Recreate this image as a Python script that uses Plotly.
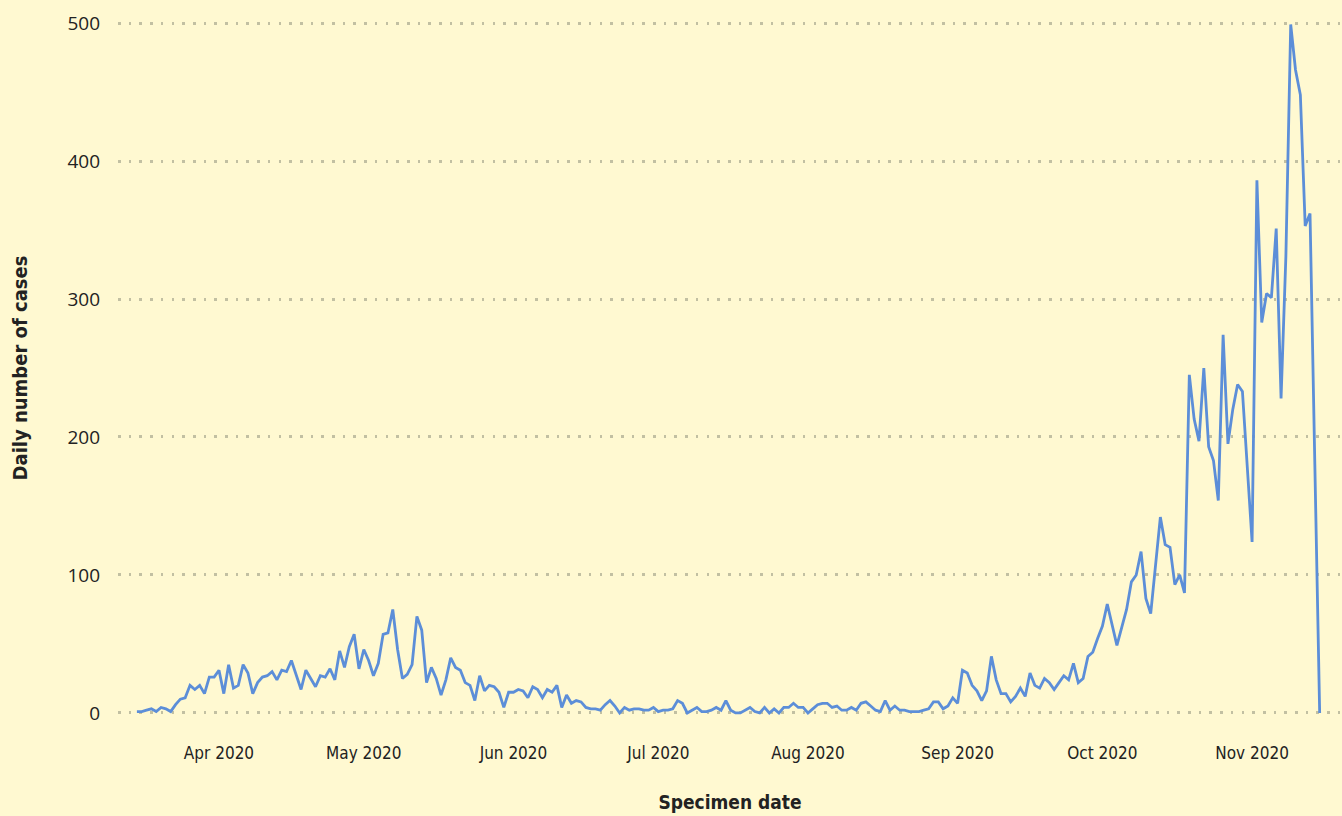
import plotly.graph_objects as go
import pandas as pd

start_date = "2020-03-15"
daily_cases = [
    1, 1, 2, 3, 1, 4, 3, 1, 6, 10,
    11, 20, 17, 20, 14, 26, 26, 31, 14, 35,
    18, 20, 35, 29, 14, 22, 26, 27, 30, 24,
    31, 30, 38, 28, 17, 31, 25, 19, 27, 26,
    32, 24, 45, 33, 48, 57, 32, 46, 38, 27,
    36, 57, 58, 75, 46, 25, 28, 35, 70, 60,
    22, 33, 25, 13, 24, 40, 33, 31, 22, 20,
    9, 27, 16, 20, 19, 15, 4, 15, 15, 17,
    16, 11, 19, 17, 11, 17, 15, 20, 4, 13,
    7, 9, 8, 4, 3, 3, 2, 6, 9, 5,
    0, 4, 2, 3, 3, 2, 2, 4, 1, 2,
    2, 3, 9, 7, 0, 2, 4, 1, 1, 2,
    4, 2, 9, 2, 0, 0, 2, 4, 1, 0,
    4, 0, 3, 0, 4, 4, 7, 4, 4, 0,
    3, 6, 7, 7, 4, 5, 2, 2, 4, 2,
    7, 8, 5, 2, 1, 9, 2, 5, 2, 2,
    1, 1, 1, 2, 3, 8, 8, 3, 5, 11,
    7, 31, 29, 20, 16, 9, 16, 41, 24, 14,
    14, 8, 12, 18, 12, 29, 20, 18, 25, 22,
    17, 22, 27, 24, 36, 22, 25, 41, 44, 54,
    63, 79, 64, 49, 62, 75, 95, 100, 117, 83,
    72, 106, 142, 122, 120, 93, 100, 87, 245, 213,
    197, 250, 193, 183, 154, 274, 195, 220, 238, 233,
    180, 124, 386, 283, 304, 301, 351, 228, 331, 499,
    466, 448, 353, 362, 180, 0,
]
dates = pd.date_range(start_date, periods=len(daily_cases), freq="D")

y_ticks = [0, 100, 200, 300, 400, 500]
x_title = "Specimen date"
y_title = "Daily number of cases"

bg = "#FFF9D1"
line_color = "#5C8ED8"
grid_color = "#C2C0A2"
text_color = "#222222"
narrow = "DejaVu Sans Condensed, Liberation Sans Narrow, sans-serif"

fig = go.Figure()
fig.add_trace(go.Scatter(
    x=dates, y=daily_cases, mode="lines",
    line=dict(color=line_color, width=2.8),
    hoverinfo="x+y",
))

fig.update_layout(
    width=1342, height=816,
    paper_bgcolor=bg, plot_bgcolor=bg,
    margin=dict(l=118, r=0, t=12, b=92),
    showlegend=False,
    xaxis=dict(
        type="date",
        range=["2020-03-11 02:00", "2020-11-19 15:00"],
        dtick="M1", tick0="2020-01-01", tickformat="%b %Y",
        showgrid=False, zeroline=False, showline=False, ticks="",
        tickfont=dict(family=narrow, size=17, color=text_color),
        ticklabelstandoff=17,
        title=dict(text="<b>" + x_title + "</b>", standoff=33,
                   font=dict(family=narrow, size=19, color=text_color)),
    ),
    yaxis=dict(
        range=[-8, 508],
        tickvals=y_ticks,
        showgrid=True, gridcolor=grid_color, gridwidth=2.6, griddash="2.6px,8.1px",
        zeroline=False, showline=False, ticks="",
        tickfont=dict(family="Open Sans, sans-serif", size=19, color=text_color),
        ticklabelstandoff=17,
        title=dict(text="<b>" + y_title + "</b>", standoff=34,
                   font=dict(family=narrow, size=20, color=text_color)),
    ),
)

fig.write_html(
    "out.html",
    config={"displayModeBar": False},
    post_script="document.body.style.margin='0';document.body.style.background='%s';" % bg,
)
